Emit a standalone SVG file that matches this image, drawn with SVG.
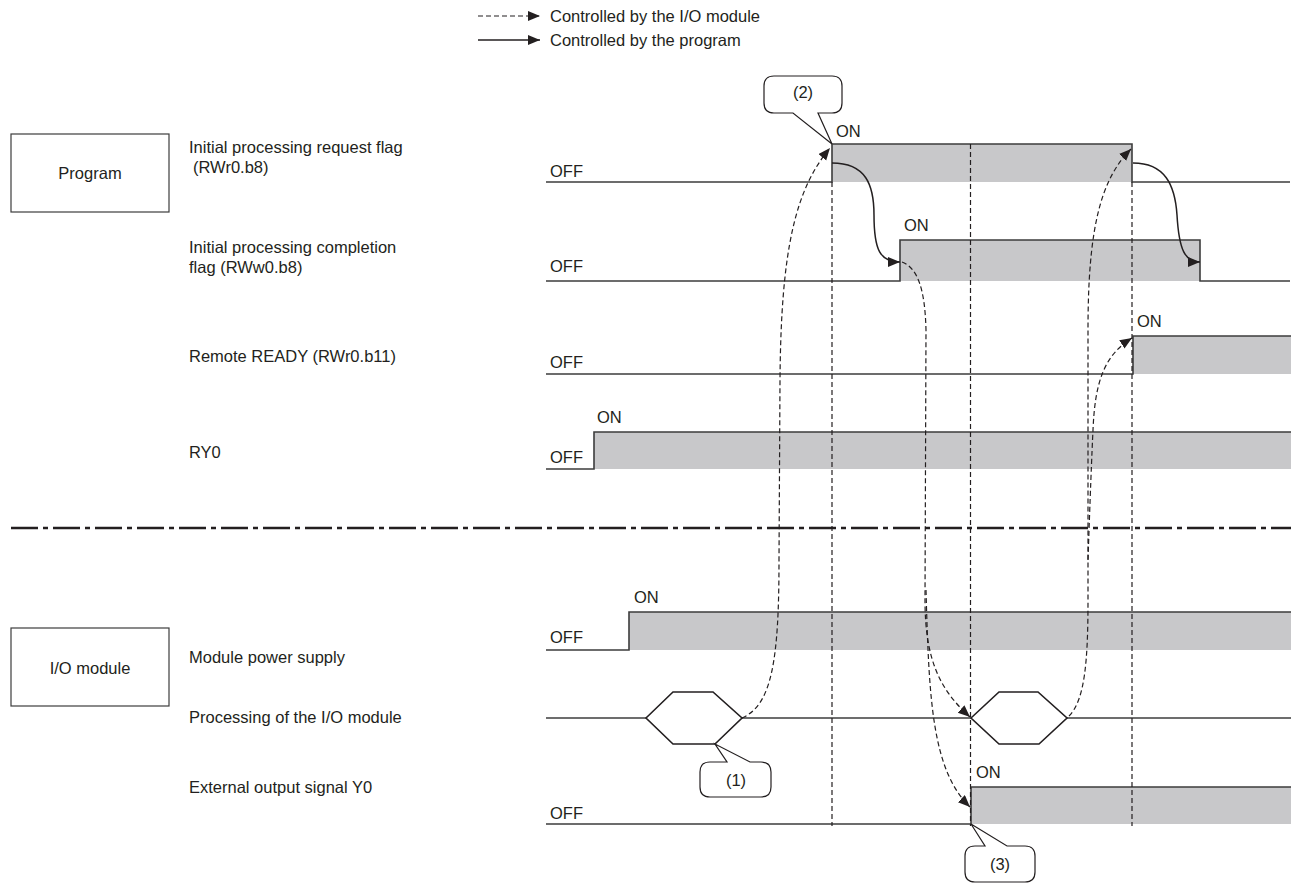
<svg xmlns="http://www.w3.org/2000/svg" width="1291" height="885" viewBox="0 0 1291 885">
<style>
text{font-family:"Liberation Sans",Arial,sans-serif;font-size:16.5px;fill:#231f20}
.mid{text-anchor:middle}
.wave{fill:none;stroke:#3c3c3c;stroke-width:1.6}
.fill{fill:#c8c8ca;stroke:none}
.box{fill:#fff;stroke:#3c3c3c;stroke-width:1.2}
.vdash{fill:none;stroke:#231f20;stroke-width:1.2;stroke-dasharray:5 3}
.darr{fill:none;stroke:#231f20;stroke-width:1.2;stroke-dasharray:5 3;marker-end:url(#ah)}
.sarr{fill:none;stroke:#231f20;stroke-width:1.5;marker-end:url(#ah)}
.hex{fill:#fff;stroke:#231f20;stroke-width:1.6}
.call{fill:#fff;stroke:#231f20;stroke-width:1.2}
</style>
<defs>
<marker id="ah" markerUnits="userSpaceOnUse" markerWidth="14" markerHeight="12" refX="12" refY="5" orient="auto">
<path d="M0,0 L12,5 L0,10 Z" fill="#231f20"/>
</marker>
</defs>

<g id="legend">
<path class="darr" d="M478,16 H540"/>
<text x="550" y="22">Controlled by the I/O module</text>
<path class="sarr" d="M478,40 H540"/>
<text x="550" y="46">Controlled by the program</text>
</g>

<g id="program-box">
<rect class="box" x="11" y="134" width="158" height="78"/>
<text class="mid" x="90" y="179">Program</text>
</g>
<g id="io-box">
<rect class="box" x="11" y="628" width="158" height="78"/>
<text class="mid" x="90" y="674">I/O module</text>
</g>

<g id="sig-request">
<text x="189" y="153">Initial processing request flag</text>
<text x="193" y="173">(RWr0.b8)</text>
<rect class="fill" x="832" y="144" width="300" height="38"/>
<path class="wave" d="M546,182 H832 V144 H1132 V182 H1290"/>
<text x="550" y="177">OFF</text>
<text x="836" y="137">ON</text>
</g>

<g id="sig-completion">
<text x="189" y="253">Initial processing completion</text>
<text x="189" y="273">flag (RWw0.b8)</text>
<rect class="fill" x="900" y="240" width="300" height="41"/>
<path class="wave" d="M546,281 H900 V240 H1200 V281 H1290"/>
<text x="550" y="272">OFF</text>
<text x="904" y="231">ON</text>
</g>

<g id="sig-ready">
<text x="189" y="362">Remote READY (RWr0.b11)</text>
<rect class="fill" x="1133" y="336" width="158" height="38"/>
<path class="wave" d="M546,374 H1133 V336 H1291"/>
<text x="550" y="368">OFF</text>
<text x="1137" y="327">ON</text>
</g>

<g id="sig-ry0">
<text x="189" y="458">RY0</text>
<rect class="fill" x="594" y="432" width="697" height="37"/>
<path class="wave" d="M546,469 H594 V432 H1291"/>
<text x="550" y="463">OFF</text>
<text x="597" y="423">ON</text>
</g>

<g id="separator">
<path d="M11,528 H1291" fill="none" stroke="#231f20" stroke-width="2.6" stroke-dasharray="27 5 5 5"/>
</g>

<g id="sig-power">
<text x="189" y="663">Module power supply</text>
<rect class="fill" x="629" y="612" width="662" height="38"/>
<path class="wave" d="M546,650 H629 V612 H1291"/>
<text x="550" y="643">OFF</text>
<text x="634" y="603">ON</text>
</g>

<g id="sig-processing">
<text x="189" y="723">Processing of the I/O module</text>
<path class="wave" d="M546,718 H1291"/>
<path class="hex" d="M646,718 L673,692 H713 L742,718 L715,744 H673 Z"/>
<path class="hex" d="M971,718 L999,692 H1038 L1067,718 L1039,744 H999 Z"/>
</g>

<g id="sig-y0">
<text x="189" y="793">External output signal Y0</text>
<rect class="fill" x="971" y="787" width="320" height="37"/>
<path class="wave" d="M546,824 H971 V787 H1291"/>
<text x="550" y="819">OFF</text>
<text x="976" y="778">ON</text>
</g>

<g id="connectors">
<path class="vdash" d="M832,182 V826"/>
<path class="vdash" d="M970.5,144 V826"/>
<path class="vdash" d="M1132,182 V826"/>
<path class="darr" d="M742,718 C772,705 779,660 779,560 L780,380 C781,250 795,190 830,148"/>
<path class="sarr" d="M832,163 C866,163 874,185 874,215 C874,250 880,262 900,262"/>
<path class="darr" d="M902,262 C918,268 925,290 926,330 L925,600 C925,660 940,690 970,717"/>
<path class="darr" d="M926,590 C929,700 932,770 970,807"/>
<path class="darr" d="M1069,716 C1085,700 1088,660 1088,600 L1088,330 C1088,230 1100,180 1131,149"/>
<path class="darr" d="M1088,560 C1090,500 1092,450 1093,430 C1095,380 1105,355 1132,338"/>
<path class="sarr" d="M1133,163 C1165,163 1175,185 1177,215 C1179,250 1185,262 1200,262"/>
</g>

<g id="callout-2">
<path class="call" d="M774,76 H832 Q842,76 842,86 V103 Q842,113 832,113 H818 L832,144 L793,113 H774 Q764,113 764,103 V86 Q764,76 774,76 Z"/>
<text class="mid" x="803" y="98">(2)</text>
</g>
<g id="callout-1">
<path class="call" d="M710,762 H727 L715,744 L750,762 H761 Q771,762 771,772 V787 Q771,797 761,797 H710 Q700,797 700,787 V772 Q700,762 710,762 Z"/>
<text class="mid" x="736" y="786">(1)</text>
</g>
<g id="callout-3">
<path class="call" d="M975,846 H985 L971,824 L1007,846 H1025 Q1035,846 1035,856 V872 Q1035,882 1025,882 H975 Q965,882 965,872 V856 Q965,846 975,846 Z"/>
<text class="mid" x="1000" y="870">(3)</text>
</g>
</svg>
